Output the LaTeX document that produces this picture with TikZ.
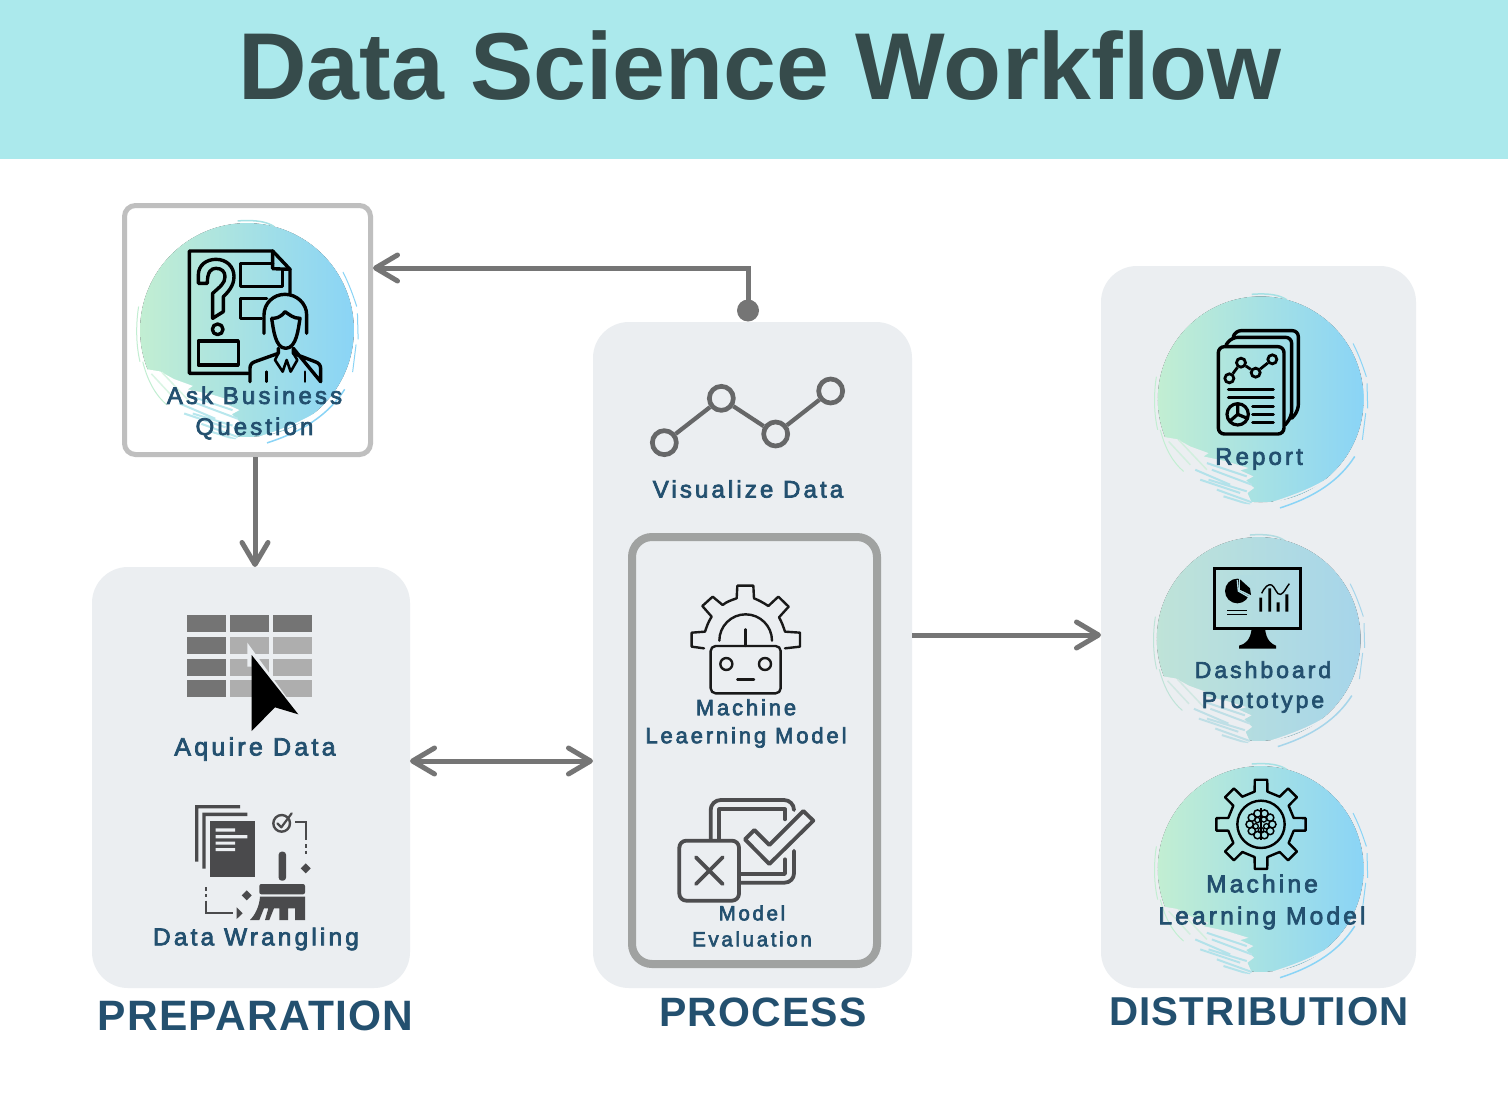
\documentclass[tikz,border=0pt]{standalone}
\usepackage{fontspec}
\setmainfont{Liberation Sans}
\newfontfamily\labfont[LetterSpace=13,FakeBold=3]{Liberation Sans}
\newfontfamily\secfont[LetterSpace=3]{Liberation Sans Bold}
\newfontfamily\titlefont{Liberation Sans Bold}
\usetikzlibrary{arrows.meta,calc}
\definecolor{banner}{HTML}{ABE9EC}
\definecolor{paneL}{HTML}{EBEEF1}
\definecolor{ink}{HTML}{23506F}
\definecolor{titleink}{HTML}{364B4B}
\definecolor{arrowgrey}{HTML}{757575}
\definecolor{askrim}{HTML}{BFBFBF}
\definecolor{innerrim}{HTML}{A0A2A1}
\definecolor{mintA}{HTML}{C2EED2}
\definecolor{skyA}{HTML}{8AD4F6}
\definecolor{mintB}{HTML}{BFE3D8}
\definecolor{skyB}{HTML}{A6D5EA}
\definecolor{chartgrey}{HTML}{666768}
\definecolor{wrang}{HTML}{4A4A4C}
\definecolor{evalgrey}{HTML}{4D4D4F}
\definecolor{tabdark}{HTML}{747474}
\definecolor{tablight}{HTML}{AEAEAE}
\newcommand{\brushblob}[6]{%
\begin{scope}[shift={(#1,#2)},scale=#3/310,shift={(-362,-358)}]
 \fill[left color=#4,right color=#5] (362,358) circle (310);
 \draw[#6,line width=1.6pt] (362,358) circle (313);
 \begin{scope}
 \clip (362,358) circle (318);
 \fill[#6] (62,470)--(110,478)--(150,500)--(205,520)--(190,530)--(260,545)--(325,565)--(300,572)--(340,590)--(318,602)--(342,625)--(322,640)--(342,685)--(200,730)--(20,600)--cycle;
 \draw[#4!60!#6,line width=1.5pt] (85,485)--(150,555) (115,480)--(200,570);
 \draw[#4!40!#5!75!#6,line width=2pt] (200,550)--(320,590) (180,600)--(300,640) (230,630)--(335,668) (215,570)--(335,615) (165,570)--(270,615) (205,600)--(320,635) (250,650)--(330,675);
 \end{scope}
 \draw[#6,line width=1.5pt] (400,668) .. controls (520,630) and (600,590) .. (645,520);
 \draw[#5,line width=1.5pt] (420,685) .. controls (530,650) and (600,600) .. (645,530);
 \draw[#4!50!#5,line width=1.5pt] (335,42) .. controls (390,38) and (420,45) .. (440,58);
 \draw[#4,line width=1pt] (48,290) .. controls (40,340) and (40,400) .. (52,450) (60,450) .. controls (75,510) and (100,550) .. (130,575);
 \draw[#5,line width=1pt] (640,190) .. controls (660,230) and (670,260) .. (680,290) (682,310) -- (684,385) (678,400) -- (668,480);
\end{scope}}
\tikzset{
 panel/.style={rectangle,rounded corners=36pt,fill=paneL,inner sep=0pt,outer sep=0pt},
 lab/.style={text=ink,align=center,inner sep=0pt},
 sec/.style={text=ink,inner sep=0pt},
 conn/.style={draw=arrowgrey,line width=5pt},
 tip/.style={-{Straight Barb[length=22pt,width=26pt,round]}},
 ring/.style={circle,draw=chartgrey,line width=4.7pt,inner sep=0pt,minimum size=24pt},
 dotnode/.style={circle,draw=black,line width=2.8pt,inner sep=0pt},
 icn/.style={line width=#1,line cap=round,line join=round},
 icn/.default=3pt
}
\begin{document}
\begin{tikzpicture}[x=1pt,y=-1pt]
\useasboundingbox (0,0) rectangle (1508,1100);
\fill[white] (0,0) rectangle (1508,1100);
\fill[banner] (0,0) rectangle (1508,158.5);
\node[inner sep=0pt,text=titleink,font=\titlefont\fontsize{95}{95}\selectfont] (title) at (760,66) {Data Science Workflow};

% panels
\node[panel,minimum width=318pt,minimum height=421pt] (prep) at (251,777.5) {};
\node[panel,minimum width=319pt,minimum height=666pt] (proc) at (752.5,655) {};
\node[panel,minimum width=315pt,minimum height=722pt] (dist) at (1258.5,627) {};
\node[rectangle,draw=askrim,line width=5pt,rounded corners=11pt,fill=white,minimum width=246pt,minimum height=249pt,inner sep=0pt] (ask) at (247.5,330) {};
\node[rectangle,draw=innerrim,line width=8pt,rounded corners=20pt,minimum width=245pt,minimum height=427pt,inner sep=0pt] (inner) at (754.5,750.5) {};

% blobs
\brushblob{247}{330}{107}{mintA}{skyA}{white}
\brushblob{1260.7}{399.3}{103}{mintA}{skyA}{paneL}
\brushblob{1258.7}{639}{102}{mintB}{skyB}{paneL}
\brushblob{1260.7}{869}{103}{mintA}{skyA}{paneL}

% connectors
\node[circle,fill=arrowgrey,minimum size=22pt,inner sep=0pt] (dot) at (748,310.5) {};
\draw[conn,tip] (dot.center) |- ($(ask.east)+(0,-62)$);
\draw[conn,tip] ($(ask.south)+(7.5,0)$) -- ($(prep.north)+(4,0)$);
\draw[conn,{Straight Barb[length=22pt,width=26pt,round]}-{Straight Barb[length=22pt,width=26pt,round]}] ($(prep.east)+(0,-16.5)$) -- ($(proc.west)+(0,106)$);
\draw[conn,tip] ($(proc.east)+(0,-20)$) -- ($(dist.west)+(0,8)$);

% Ask icon
\begin{scope}[shift={(110,190)},scale=1/3]
 \draw[icn=3.4pt] (415,550)--(238,550)--(238,183)--(488,183)--(540,238)--(540,310);
 \draw[icn=3.4pt] (488,183)--(488,236)--(540,238);
 \draw[icn=3.4pt] (488,220)--(392,220)--(392,290)--(518,290)--(518,240);
 \draw[icn=3.4pt] (470,325)--(392,325)--(392,385)--(455,385);
 \draw[icn=3.4pt] (265,280)--(265,255) .. controls (265,225) and (290,208) .. (318,208) .. controls (350,208) and (372,230) .. (372,260) .. controls (372,290) and (350,310) .. (340,320)--(340,365)--(308,385)--(308,310) .. controls (330,290) and (345,280) .. (345,260) .. controls (345,245) and (335,235) .. (318,235) .. controls (303,235) and (292,245) .. (292,280)--cycle;
 \draw[icn=3.4pt] (323,418) circle (16);
 \draw[icn=3.4pt] (265,453) rectangle (385,525);
 \draw[icn=3.4pt] (462,430) -- (462,375) .. controls (462,340) and (490,313) .. (525,313) .. controls (560,313) and (590,340) .. (590,375) -- (590,430);
 \draw[icn=3.4pt] (485,385) .. controls (490,415) and (495,475) .. (527,475) .. controls (560,475) and (565,415) .. (570,385) .. controls (550,385) and (540,375) .. (525,365) .. controls (510,385) and (495,385) .. (485,385);
 \draw[icn=3.4pt] (420,575)--(420,535) .. controls (420,525) and (425,518) .. (435,515)--(505,490)--(505,475) (550,475)--(550,490)--(615,515) .. controls (625,518) and (632,525) .. (632,535)--(632,575)--cycle;
 \draw[icn=2.6pt] (505,490)--(495,510)--(518,545)--(530,510)--(542,545)--(562,510)--(550,490);
 \draw[icn=2.6pt] (470,575)--(470,545) (585,575)--(585,545);
\end{scope}
\node[lab,font=\labfont\fontsize{24}{31}\selectfont] (asklab) at (254.5,413) {Ask Business\\Question};

% Table + cursor icon
\begin{scope}[shift={(160,600)},scale=1/3]
 \foreach \xa/\xb in {82/198,210/327,339/456}{\foreach \ya/\yb in {46/97,110/162,176/227,240/292}{
  \ifdim \xa pt=82pt \fill[tabdark] (\xa,\ya) rectangle (\xb,\yb);
  \else \ifdim \ya pt=46pt \fill[tabdark] (\xa,\ya) rectangle (\xb,\yb);
  \else \fill[tablight] (\xa,\ya) rectangle (\xb,\yb); \fi\fi}}
 \fill[paneL] (262,128)--(418,345)--(275,165)--(275,200)--(262,200)--cycle;
 \fill[black] (275,165)--(415,343)--(345,322)--(275,393)--cycle;
\end{scope}
\node[lab,font=\labfont\fontsize{25}{31}\selectfont] (aqlab) at (255,749) {Aquire Data};

% Wrangling icon
\begin{scope}[shift={(160,600)},scale=1/3]
 \fill[wrang] (105,615)--(240,615)--(240,625)--(115,625)--(115,785)--(105,785)--cycle;
 \fill[wrang] (127,638)--(262,638)--(262,648)--(137,648)--(137,806)--(127,806)--cycle;
 \fill[wrang] (149,663) rectangle (284,832);
 \fill[paneL] (167,685) rectangle (225,695) (167,705) rectangle (262,715) (167,725) rectangle (225,734) (167,744) rectangle (225,753);
 \draw[wrang,line width=2.4pt] (365,670) circle (25);
 \draw[wrang,line width=2.2pt,line cap=round,line join=round] (352,670)--(364,682)--(395,640);
 \draw[wrang,line width=2.2pt] (405,667)--(437,667)--(437,720) (437,733)--(437,743) (437,752)--(437,762);
 \fill[wrang] (437,790)--(452,805)--(437,820)--(422,805)--cycle;
 \fill[wrang,rounded corners=3pt] (356,755) rectangle (378,842);
 \fill[wrang,rounded corners=2pt] (298,852) rectangle (435,883);
 \fill[wrang] (300,890)--(435,890)--(435,960)--(405,960)--(405,925)--(384,925)--(384,960)--(358,960)--(358,925)--(342,925)--(328,960)--(315,960)--(325,925)--(312,925)--(298,960)--(270,960) .. controls (285,945) and (298,920) .. (300,890)--cycle;
 \draw[wrang,line width=2.2pt] (137,862)--(137,872) (137,882)--(137,892) (137,902)--(137,938)--(220,938);
 \fill[wrang] (230,922)--(248,940)--(230,957)--cycle;
 \fill[wrang] (260,871)--(275,886)--(260,901)--(245,886)--cycle;
\end{scope}
\node[lab,font=\labfont\fontsize{24.4}{31}\selectfont] (wrlab) at (256,939) {Data Wrangling};

% Visualize icon
\begin{scope}[shift={(630,360)},scale=1/3]
 \node[ring] (v1) at (103,248) {};
 \node[ring] (v2) at (274,115) {};
 \node[ring] (v3) at (437,222) {};
 \node[ring] (v4) at (602,93) {};
 \draw[draw=chartgrey,line width=4.2pt] (v1)--(v2) (v2)--(v3) (v3)--(v4);
\end{scope}
\node[lab,font=\labfont\fontsize{24}{31}\selectfont] (vislab) at (748,489) {Visualize Data};

% Robot gear icon
\begin{scope}[shift={(630,360)},scale=1/3,black!90]
 \draw[icn=2.4pt] (222,865)--(185,860)--(185,818)--(225,815) .. controls (230,800) and (235,785) .. (245,770)--(217,738)--(248,710)--(278,735) .. controls (290,725) and (305,720) .. (320,715)--(322,677)--(370,677)--(372,715) .. controls (385,720) and (400,728) .. (415,738)--(445,710)--(476,740)--(447,772) .. controls (455,785) and (460,800) .. (465,815)--(510,818)--(510,860)--(465,865);
 \draw[icn=2.4pt] (268,842) arc[start angle=180,end angle=360,radius=79];
 \draw[icn=2.4pt] (347,808)--(347,858);
 \draw[icn=2.4pt,rounded corners=5pt] (242,858) rectangle (452,1000);
 \draw[icn=2.4pt] (289,912) circle (18) (405,912) circle (18);
 \draw[icn=2.4pt] (322,959)--(372,959);
\end{scope}
\node[lab,font=\labfont\fontsize{22}{28}\selectfont] (mllab) at (746,723.5) {Machine\\Leaerning Model};

% Model evaluation icon
\begin{scope}[shift={(640,700)},scale=1/3]
 \draw[evalgrey,icn=3.8pt] (212,420)--(212,330) arc[start angle=180,end angle=270,radius=30]--(432,300) arc[start angle=270,end angle=360,radius=30];
 \draw[evalgrey,icn=3.8pt] (238,420)--(238,328)--(435,328)--(435,358);
 \draw[evalgrey,icn=3.8pt] (462,452)--(462,520) arc[start angle=0,end angle=90,radius=28]--(300,548);
 \draw[evalgrey,icn=3.8pt] (435,478)--(435,522)--(300,522);
 \draw[evalgrey,icn=3.8pt,rounded corners=7pt] (118,422) rectangle (297,602);
 \draw[evalgrey,icn=3.8pt] (168,472)--(248,552) (248,472)--(168,552);
 \draw[evalgrey,icn=3.8pt] (315,418)--(343,390)--(388,435)--(490,333)--(520,362)--(388,492)--cycle;
\end{scope}
\node[lab,font=\labfont\fontsize{20.5}{26}\selectfont] (evlab) at (752,926) {Model\\Evaluation};

% Report icon
\begin{scope}[shift={(1140,280)},scale=1/3]
 \draw[icn=3.4pt,rounded corners=6pt] (235,200) rectangle (432,462);
 \draw[icn=3.4pt,rounded corners=6pt] (258,195)--(275,172)--(455,172)--(455,410)--(435,435);
 \draw[icn=3.4pt,rounded corners=6pt] (280,170)--(285,152)--(475,152)--(475,392)--(455,415);
 \node[dotnode,minimum size=9pt] (r1) at (268,295) {};
 \node[dotnode,minimum size=9pt] (r2) at (303,248) {};
 \node[dotnode,minimum size=9pt] (r3) at (347,278) {};
 \node[dotnode,minimum size=9pt] (r4) at (397,238) {};
 \draw[line width=2.8pt] (r1)--(r2) (r2)--(r3) (r3)--(r4);
 \draw[icn=3pt] (265,328)--(400,328) (265,352)--(400,352) (338,380)--(400,380) (338,403)--(400,403) (338,426)--(400,426);
 \draw[icn=3.2pt] (293,403) circle (32) (293,372)--(293,403)--(322,415) (293,403)--(270,423);
\end{scope}
\node[lab,font=\labfont\fontsize{24}{31}\selectfont] (replab) at (1259,459) {Report};

% Dashboard icon
\begin{scope}[shift={(1140,525)},scale=1/3]
 \draw[line width=3pt] (223,130) rectangle (482,310);
 \fill (335,310)--(375,310) .. controls (378,345) and (395,358) .. (408,362)--(408,371)--(297,371)--(297,362) .. controls (315,358) and (332,345) .. (335,310)--cycle;
 \fill (292,198) circle (37);
 \draw[skyB!60!mintB,line width=1.4pt] (292,165)--(295,198)--(330,218);
 \fill[skyB!50!mintB] (297,150)--(345,150)--(345,215)--(331,215)--(297,197)--cycle;
 \fill (300,163)--(330,190)--(333,210)--(300,194)--cycle;
 \draw[line width=1.6pt] (262,256)--(322,256) (262,268)--(322,268);
 \fill (358,218) rectangle (366,260) (385,190) rectangle (393,260) (410,232) rectangle (419,260) (436,208) rectangle (445,260);
 \draw[line width=1.4pt] (365,205) .. controls (375,185) and (385,176) .. (395,180) .. controls (405,185) and (410,212) .. (422,208) .. controls (432,205) and (440,185) .. (448,176);
\end{scope}
\node[lab,font=\labfont\fontsize{23}{30}\selectfont] (dashlab) at (1263,687) {Dashboard\\Prototype};

% ML gear icon
\begin{scope}[shift={(1140,755)},scale=1/3]
 \begin{scope}[shift={(363,208)}]
  \draw[icn=2.4pt] (-11:100) \foreach \a in {0,45,...,315}{ -- (\a-11:100) -- (\a-8:135) -- (\a+8:135) -- (\a+11:100)} -- cycle;
  \draw[line width=2.4pt] (0,0) circle (71);
  \foreach \a in {0,36,...,324}{\draw[line width=1.5pt] (\a:34) circle (11);}
  \foreach \a in {20,90,...,340}{\draw[line width=1.3pt] (\a:17) circle (8);}
  \draw[line width=1.5pt] (0,-48)--(0,48);
 \end{scope}
\end{scope}
\node[lab,font=\labfont\fontsize{24.5}{32}\selectfont] (mdlab) at (1262,902) {Machine\\Learning Model};

% section headings
\node[sec,font=\secfont\fontsize{42.5}{42}\selectfont] (s1) at (255.5,1016) {PREPARATION};
\node[sec,font=\secfont\fontsize{41}{41}\selectfont] (s2) at (763,1012) {PROCESS};
\node[sec,font=\secfont\fontsize{40.3}{41}\selectfont] (s3) at (1259,1012) {DISTRIBUTION};
\end{tikzpicture}
\end{document}
